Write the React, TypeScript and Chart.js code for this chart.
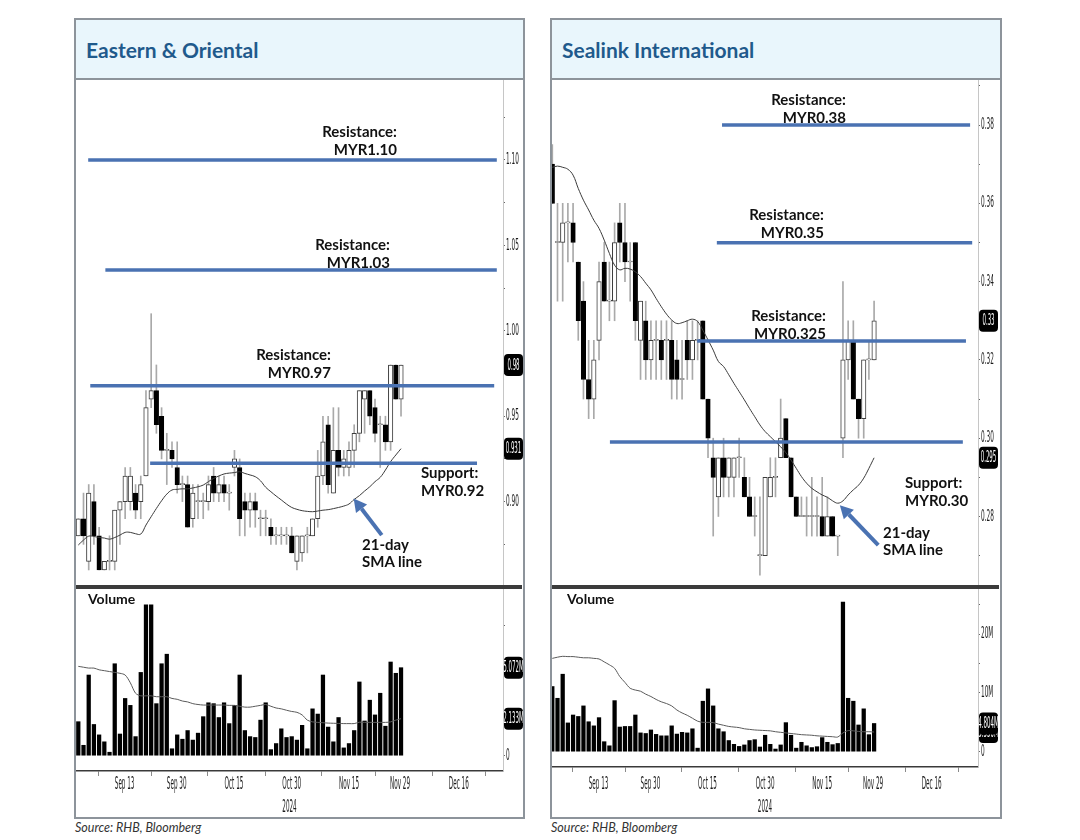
import React, { useEffect, useRef } from 'react';
import { Chart, registerables } from 'chart.js';
Chart.register(...registerables);

// ---------------- Eastern & Oriental ----------------
const eoOpen = [0.880,0.890,0.865,0.900,0.880,0.860,0.865,0.865,0.895,0.900,0.900,0.905,0.900,0.915,0.960,0.965,0.950,0.930,0.930,0.920,0.910,0.910,0.890,0.900,0.900,0.900,0.915,0.905,0.910,0.905,0.920,0.920,0.900,0.895,0.900,0.890,0.890,0.885,0.880,0.880,0.880,0.880,0.865,0.870,0.880,0.880,0.890,0.915,0.945,0.905,0.930,0.920,0.920,0.930,0.940,0.960,0.965,0.955,0.945,0.945,0.935,0.980,0.960];
const eoHigh = [0.890,0.905,0.910,0.910,0.885,0.865,0.880,0.895,0.900,0.920,0.920,0.910,0.915,0.965,1.010,0.980,0.955,0.940,0.935,0.935,0.915,0.915,0.910,0.910,0.905,0.915,0.920,0.915,0.915,0.910,0.930,0.925,0.905,0.905,0.905,0.895,0.895,0.890,0.885,0.885,0.885,0.885,0.880,0.880,0.885,0.890,0.930,0.950,0.950,0.955,0.955,0.930,0.935,0.945,0.965,0.965,0.965,0.960,0.950,0.950,0.980,0.980,0.980];
const eoLow = [0.880,0.875,0.860,0.875,0.860,0.860,0.860,0.860,0.875,0.890,0.895,0.890,0.890,0.915,0.955,0.940,0.925,0.910,0.920,0.905,0.900,0.885,0.885,0.890,0.890,0.895,0.900,0.900,0.900,0.895,0.915,0.880,0.880,0.885,0.885,0.880,0.880,0.875,0.875,0.875,0.875,0.870,0.860,0.865,0.870,0.880,0.885,0.910,0.905,0.905,0.915,0.915,0.915,0.920,0.935,0.940,0.945,0.935,0.920,0.930,0.930,0.960,0.950];
const eoClose = [0.890,0.880,0.905,0.880,0.860,0.865,0.865,0.895,0.900,0.915,0.915,0.895,0.910,0.955,0.965,0.945,0.930,0.930,0.925,0.910,0.910,0.885,0.905,0.900,0.900,0.910,0.905,0.910,0.905,0.905,0.925,0.890,0.895,0.900,0.895,0.890,0.890,0.880,0.880,0.880,0.880,0.870,0.880,0.880,0.880,0.890,0.915,0.935,0.910,0.930,0.920,0.925,0.930,0.940,0.965,0.965,0.950,0.940,0.945,0.935,0.980,0.960,0.980];
const eoSma = [0.8746,0.8775,0.8798,0.8796,0.879,0.8787,0.878,0.879,0.8804,0.882,0.882,0.8812,0.881,0.8863,0.8912,0.896,0.9005,0.9044,0.9068,0.9072,0.9075,0.9075,0.908,0.9087,0.9097,0.9117,0.9136,0.915,0.9162,0.9167,0.917,0.9175,0.9165,0.9156,0.9146,0.9122,0.9084,0.9058,0.9033,0.901,0.8986,0.8966,0.8955,0.8947,0.8943,0.8941,0.8945,0.895,0.8953,0.8959,0.8966,0.8974,0.8986,0.9013,0.9035,0.9062,0.9087,0.9117,0.9142,0.9185,0.9234,0.9273,0.931];
const eoVolume = [1.96,0.6,4.65,1.8,1.2,0.8,0.2,5.3,1.25,3.3,2.9,1.1,4.8,8.7,8.7,3.0,5.3,5.85,0.4,1.2,0.95,1.45,0.9,1.3,2.25,3.05,3.0,2.2,3.05,1.85,2.9,4.65,1.45,1.1,1.05,2.05,3.05,0.35,0.7,1.55,1.05,1.1,0.9,1.75,0.4,2.7,2.4,4.65,1.65,0.8,2.2,0.45,0.7,1.45,4.25,2.0,3.2,2.35,3.6,1.7,5.4,4.75,5.072];
const eoVolSma = [5.15,5.1,5.05,5.05,4.95,4.9,4.85,4.8,4.75,4.65,4.2,3.6,3.45,3.45,3.45,3.4,3.4,3.4,3.3,3.25,3.15,3.1,3.0,2.95,2.92,2.92,2.92,2.92,2.92,2.9,2.9,2.85,2.8,2.8,2.85,2.9,2.95,2.85,2.75,2.7,2.62,2.55,2.5,2.35,2.05,1.95,1.92,1.9,1.88,1.87,1.86,1.85,1.85,1.85,1.93,1.92,1.92,1.92,1.92,1.92,1.95,2.05,2.133];
const eoLevelNames = ['Resistance:', 'Resistance:', 'Resistance:', 'Support:'];
const eoLevelTexts = ['MYR1.10', 'MYR1.03', 'MYR0.97', 'MYR0.92'];
const eoLevelDrawn = [1.1, 1.0356, 0.9678, 0.9224];
const eoLevelFrom = [2.9, 6.2, 3.3, 14.8];
const eoLevelTo = [81.4, 81.4, 80.9, 77.6];
const eoPriceTicks = [0.875, 0.9, 0.925, 0.95, 0.975, 1.0, 1.025, 1.05, 1.075, 1.1, 1.125];
const eoPriceLabels = [0.9, 0.95, 1.0, 1.05, 1.1];
const eoVolTicks = [0, 2.5, 5, 7.5];
const eoVolLabels = [0, 5];

// ---------------- Sealink International ----------------
const slOpen = [0.370,0.350,0.350,0.355,0.355,0.345,0.335,0.315,0.310,0.325,0.345,0.335,0.335,0.355,0.350,0.345,0.350,0.325,0.330,0.320,0.325,0.325,0.325,0.325,0.320,0.315,0.325,0.320,0.325,0.330,0.310,0.295,0.285,0.295,0.290,0.290,0.295,0.290,0.285,0.280,0.270,0.270,0.285,0.290,0.295,0.305,0.295,0.285,0.280,0.280,0.280,0.280,0.280,0.275,0.280,0.275,0.300,0.320,0.325,0.310,0.305,0.320,0.320];
const slHigh = [0.375,0.360,0.360,0.360,0.360,0.345,0.340,0.325,0.325,0.345,0.350,0.345,0.355,0.360,0.360,0.350,0.350,0.335,0.335,0.330,0.330,0.330,0.330,0.330,0.325,0.325,0.330,0.330,0.330,0.330,0.310,0.300,0.295,0.300,0.295,0.295,0.300,0.295,0.290,0.285,0.285,0.290,0.295,0.295,0.310,0.305,0.295,0.285,0.285,0.285,0.290,0.285,0.290,0.285,0.280,0.275,0.340,0.330,0.330,0.310,0.320,0.325,0.335];
const slLow = [0.360,0.335,0.335,0.345,0.345,0.325,0.310,0.305,0.305,0.320,0.335,0.330,0.330,0.345,0.340,0.335,0.325,0.315,0.315,0.315,0.315,0.315,0.315,0.310,0.310,0.310,0.315,0.315,0.320,0.310,0.295,0.275,0.280,0.285,0.285,0.285,0.290,0.285,0.280,0.275,0.265,0.270,0.285,0.285,0.295,0.295,0.285,0.280,0.280,0.275,0.275,0.275,0.275,0.275,0.275,0.270,0.295,0.315,0.310,0.300,0.300,0.315,0.320];
const slClose = [0.360,0.350,0.355,0.355,0.350,0.330,0.315,0.310,0.320,0.340,0.335,0.335,0.350,0.350,0.345,0.345,0.330,0.335,0.320,0.325,0.325,0.320,0.325,0.315,0.315,0.315,0.320,0.325,0.325,0.310,0.300,0.290,0.295,0.290,0.295,0.295,0.295,0.285,0.280,0.280,0.270,0.290,0.290,0.290,0.300,0.295,0.285,0.280,0.280,0.280,0.280,0.280,0.275,0.280,0.275,0.275,0.320,0.325,0.310,0.305,0.320,0.320,0.330];
const slSma = [0.3692,0.3695,0.3692,0.3687,0.3672,0.3638,0.3608,0.3583,0.3557,0.3536,0.3506,0.3472,0.3442,0.3430,0.3434,0.3432,0.3425,0.3413,0.3396,0.3379,0.3357,0.3336,0.3317,0.3302,0.3293,0.3295,0.3300,0.3304,0.3298,0.3276,0.3251,0.3225,0.3196,0.3183,0.3162,0.3140,0.3119,0.3098,0.3076,0.3055,0.3034,0.3017,0.3004,0.2991,0.2978,0.2963,0.2944,0.2923,0.2902,0.2885,0.2872,0.2863,0.2855,0.2849,0.2840,0.2834,0.2840,0.2855,0.2868,0.2880,0.2898,0.2923,0.295];
const slVolume = [11.1,9.1,13.2,4.9,6.25,6.0,7.8,5.1,4.4,5.8,1.7,1.0,8.7,4.2,4.3,4.3,6.25,3.2,3.1,3.7,2.95,2.7,2.7,4.4,3.0,3.3,3.2,3.9,0.6,8.6,10.7,7.8,3.9,3.4,1.9,1.25,0.9,1.15,1.9,2.05,0.8,2.8,1.25,0.45,1.15,4.95,2.8,0.6,1.6,1.0,0.7,0.85,2.4,1.6,1.2,1.4,25.5,9.1,8.6,4.55,7.3,2.9,4.804];
const slVolSma = [15.9,16.1,16.25,16.2,16.2,16.1,16.0,16.0,15.9,15.8,15.3,14.8,14.2,12.8,11.8,10.8,10.5,10.3,9.8,9.4,8.9,8.5,8.2,7.8,7.1,6.6,6.2,5.7,5.2,5.0,5.0,4.95,4.7,4.5,4.3,4.2,4.1,3.9,3.8,3.7,3.65,3.6,3.55,3.4,3.3,3.2,3.1,3.0,2.9,2.85,2.8,2.7,2.65,2.6,2.55,2.5,3.2,3.6,3.55,3.45,3.4,3.4,3.35];
const slLevelNames = ['Resistance:', 'Resistance:', 'Resistance:', 'Support:'];
const slLevelTexts = ['MYR0.38', 'MYR0.35', 'MYR0.325', 'MYR0.30'];
const slLevelDrawn = [0.38, 0.3499, 0.3248, 0.299];
const slLevelFrom = [33.7, 32.7, 28.9, 12.1];
const slLevelTo = [81.5, 81.9, 80.7, 80.1];
const slPriceTicks = [0.27, 0.28, 0.29, 0.30, 0.31, 0.32, 0.33, 0.34, 0.35, 0.36, 0.37, 0.38, 0.39];
const slPriceLabels = [0.28, 0.30, 0.32, 0.34, 0.36, 0.38];
const slVolTicks = [0, 5, 10, 15, 20, 25];
const slVolLabels = [0, 10, 20];

// ---------------- shared x axis ----------------
const dateLabels = ['Sep 13', 'Sep 30', 'Oct 15', 'Oct 30', 'Nov 15', 'Nov 29', 'Dec 16'];
const dateLabelPos = [9.9, 19.9, 30.9, 42, 53, 62.8, 74.1];
const dateTickPos = [4.8, 15.1, 25.9, 36.9, 47.8, 58.0, 69.0, 79.2];
const yearLabel = '2024';

const LEVEL_BLUE = '#4a72b2';
const NARROW = '"Liberation Sans Narrow", "DejaVu Sans Condensed", "Liberation Sans", sans-serif';

function narrowText(ctx: any, text: string, x: number, y: number, align: string, color: string, size: number, sx: number) {
  ctx.save();
  ctx.font = `${size}px ${NARROW}`;
  ctx.fillStyle = color;
  ctx.textBaseline = 'middle';
  ctx.textAlign = align;
  ctx.translate(x, y);
  ctx.scale(sx, 1);
  ctx.fillText(text, 0, 0);
  ctx.restore();
}

function makeOverlay(opts: any) {
  return {
    id: 'overlay',
    afterDatasetsDraw(chart: any) {
      const a = opts.arrow;
      if (!a) return;
      const xs = chart.scales.x, ys = chart.scales.y, ctx = chart.ctx;
      const px0 = xs.getPixelForValue(a.x0), py0 = ys.getPixelForValue(a.y0);
      const px1 = xs.getPixelForValue(a.x1), py1 = ys.getPixelForValue(a.y1);
      const ang = Math.atan2(py1 - py0, px1 - px0);
      const head = 13;
      const bx = px1 - head * Math.cos(ang), by = py1 - head * Math.sin(ang);
      ctx.save();
      ctx.strokeStyle = LEVEL_BLUE;
      ctx.fillStyle = LEVEL_BLUE;
      ctx.lineWidth = 4;
      ctx.beginPath();
      ctx.moveTo(px0, py0);
      ctx.lineTo(bx, by);
      ctx.stroke();
      ctx.beginPath();
      ctx.moveTo(px1, py1);
      ctx.lineTo(bx + 7 * Math.sin(ang), by - 7 * Math.cos(ang));
      ctx.lineTo(bx - 7 * Math.sin(ang), by + 7 * Math.cos(ang));
      ctx.closePath();
      ctx.fill();
      ctx.restore();
    },
    afterDraw(chart: any) {
      const ctx = chart.ctx;
      const ys = chart.scales.y;
      const xs = chart.scales.x;
      (opts.yLabels || []).forEach((t: any) => {
        narrowText(ctx, t.text, ys.left + 3, ys.getPixelForValue(t.value), 'left', '#1a1a1a', 16, 0.4);
      });
      (opts.boxes || []).forEach((b: any) => {
        const py = ys.getPixelForValue(b.value);
        ctx.save();
        ctx.fillStyle = '#000';
        ctx.beginPath();
        if (ctx.roundRect) ctx.roundRect(ys.left + 1, py - 11, 19, 22, 4);
        else ctx.rect(ys.left + 1, py - 11, 19, 22);
        ctx.fill();
        ctx.restore();
        narrowText(ctx, b.text, ys.left + 10.5, py + 0.5, 'center', '#fff', 16, 0.38);
      });
      (opts.xLabels || []).forEach((t: any) => {
        narrowText(ctx, t.text, xs.getPixelForValue(t.value), chart.height - 32, 'center', '#1a1a1a', 17, 0.37);
      });
      if (opts.year) {
        narrowText(ctx, opts.year.text, (xs.left + xs.right) / 2, chart.height - 9, 'center', '#1a1a1a', 17, 0.37);
      }
    },
  };
}

function priceConfig(p: any) {
  const idx = p.open.map((_: number, k: number) => k + 1);
  const up = idx.map((_: number, k: number) => p.close[k] >= p.open[k]);
  const bodies = idx.map((x: number, k: number) => ({ x, y: [Math.min(p.open[k], p.close[k]), Math.max(p.open[k], p.close[k])] }));
  const wicks = idx.map((x: number, k: number) => ({ x, y: [p.low[k], p.high[k]] }));
  const levelSets = p.levels.map((lv: number, k: number) => ({
    type: 'line',
    data: [{ x: p.levelFrom[k], y: lv }, { x: p.levelTo[k], y: lv }],
    borderColor: LEVEL_BLUE,
    borderWidth: 3.5,
    pointRadius: 0,
    order: -1,
  }));
  const last = p.close.length - 1;
  return {
    type: 'bar',
    data: {
      datasets: [
        ...levelSets,
        {
          type: 'line',
          data: idx.map((x: number, k: number) => ({ x, y: p.sma[k] })),
          borderColor: '#3a3a3a',
          borderWidth: 1,
          pointRadius: 0,
          tension: 0.4,
          order: 0,
        },
        {
          type: 'bar',
          data: bodies,
          backgroundColor: up.map((u: boolean) => (u ? '#ffffff' : '#000000')),
          borderColor: up.map((u: boolean) => (u ? '#3c3c3c' : '#000000')),
          borderWidth: 1,
          borderSkipped: false,
          barThickness: 4.5,
          minBarLength: 1,
          grouped: false,
          order: 1,
        },
        {
          type: 'bar',
          data: wicks,
          backgroundColor: '#a9a9a9',
          barThickness: 1,
          grouped: false,
          order: 2,
        },
      ],
    },
    options: {
      responsive: false,
      animation: false,
      devicePixelRatio: 1,
      events: [],
      layout: { padding: 0 },
      plugins: { legend: { display: false }, tooltip: { enabled: false } },
      scales: {
        x: { type: 'linear', display: false, min: p.xMin, max: p.xMax, offset: false, grid: { offset: false } },
        y: {
          type: 'linear',
          position: 'right',
          min: p.yMin,
          max: p.yMax,
          beginAtZero: false,
          afterBuildTicks: (s: any) => { s.ticks = p.priceTicks.map((v: number) => ({ value: v })); },
          afterFit: (s: any) => { s.width = 20; },
          ticks: { display: false },
          grid: { drawOnChartArea: false, drawTicks: true, tickLength: 2, color: '#666' },
          border: { display: true, color: '#c6c6c6', width: 1 },
        },
      },
    },
    plugins: [
      makeOverlay({
        yLabels: p.priceLabels.map((v: number) => ({ value: v, text: v.toFixed(2) })),
        boxes: [
          { value: p.sma[last], text: p.sma[last].toFixed(3) },
          { value: p.close[last], text: p.close[last].toFixed(2) },
        ],
        arrow: p.arrow,
      }),
    ],
  };
}

function volumeConfig(p: any) {
  const idx = p.volume.map((_: number, k: number) => k + 1);
  const last = p.volume.length - 1;
  return {
    type: 'bar',
    data: {
      datasets: [
        {
          type: 'line',
          data: idx.map((x: number, k: number) => ({ x, y: p.volSma[k] })),
          borderColor: '#5a5a5a',
          borderWidth: 1,
          pointRadius: 0,
          tension: 0.3,
          order: 0,
        },
        {
          type: 'bar',
          data: idx.map((x: number, k: number) => ({ x, y: p.volume[k] })),
          backgroundColor: '#000',
          barThickness: 3.6,
          grouped: false,
          order: 1,
        },
      ],
    },
    options: {
      responsive: false,
      animation: false,
      devicePixelRatio: 1,
      events: [],
      layout: { padding: 0 },
      plugins: { legend: { display: false }, tooltip: { enabled: false } },
      scales: {
        x: {
          type: 'linear',
          position: 'bottom',
          min: p.xMin,
          max: p.xMax,
          offset: false,
          afterBuildTicks: (s: any) => { s.ticks = dateTickPos.map((v) => ({ value: v })); },
          afterFit: (s: any) => { s.height = p.xAxisHeight; },
          ticks: { display: false },
          grid: { drawOnChartArea: false, drawTicks: true, tickLength: 5, color: '#8a8a8a', offset: false },
          border: { display: true, color: '#3a3a3a', width: 1.5 },
        },
        y: {
          type: 'linear',
          position: 'right',
          min: p.vMin,
          max: p.vMax,
          beginAtZero: false,
          afterBuildTicks: (s: any) => { s.ticks = p.volTicks.map((v: number) => ({ value: v })); },
          afterFit: (s: any) => { s.width = 20; },
          ticks: { display: false },
          grid: { drawOnChartArea: false, drawTicks: true, tickLength: 2, color: '#666' },
          border: { display: true, color: '#c6c6c6', width: 1 },
        },
      },
    },
    plugins: [
      makeOverlay({
        yLabels: p.volLabels.map((v: number) => ({ value: v, text: v === 0 ? '0' : `${v}M` })),
        boxes: [
          { value: p.volSma[last], text: `${p.volSma[last].toFixed(3)}M` },
          { value: p.volume[last], text: `${p.volume[last].toFixed(3)}M` },
        ],
        xLabels: dateLabels.map((t, k) => ({ value: dateLabelPos[k], text: t })),
        year: { text: yearLabel },
      }),
    ],
  };
}

function ChartCanvas({ left, top, width, height, config }: any) {
  const ref = useRef<HTMLCanvasElement | null>(null);
  useEffect(() => {
    if (!ref.current) return;
    const chart = new Chart(ref.current, config());
    return () => chart.destroy();
  }, []);
  return (
    <canvas
      ref={ref}
      width={width}
      height={height}
      style={{ position: 'absolute', left, top, width, height, display: 'block' }}
    />
  );
}

const BORDER = '#8d949b';
const textStyle: any = { position: 'absolute', fontFamily: 'Lato, "Open Sans", sans-serif', fontWeight: 700, fontSize: 15, lineHeight: '18px', color: '#111', whiteSpace: 'nowrap' };

function Panel({ p }: any) {
  const innerLeft = p.boxLeft + 2;
  const innerWidth = p.boxWidth - 4;
  return (
    <>
      <div style={{ position: 'absolute', left: p.boxLeft, top: 18, width: p.boxWidth, height: 801, border: `2px solid ${BORDER}`, boxSizing: 'border-box' }} />
      <div style={{ position: 'absolute', left: innerLeft, top: 20, width: innerWidth, height: 58, background: '#e9f6fc', borderBottom: `2px solid ${BORDER}` }} />
      <div style={{ position: 'absolute', left: innerLeft + 10, top: 20, height: 58, display: 'flex', alignItems: 'center', fontFamily: 'Lato, "Open Sans", sans-serif', fontWeight: 700, fontSize: 21, color: '#1f5a8c', whiteSpace: 'nowrap' }}>{p.title}</div>
      <ChartCanvas left={innerLeft} top={80} width={p.chartWidth} height={505} config={() => priceConfig(p)} />
      <div style={{ position: 'absolute', left: innerLeft, top: 585, width: innerWidth - 1, height: 4, background: '#3b3b3b' }} />
      <ChartCanvas left={innerLeft} top={589} width={p.chartWidth} height={228} config={() => volumeConfig(p)} />
      {p.levelNames.map((name: string, k: number) => {
        const a = p.annots[k];
        return a.align === 'right' ? (
          <div key={k} style={{ ...textStyle, left: a.x - 150, top: a.y, width: 150, textAlign: 'right' }}>
            <div>{name}</div>
            <div>{p.levelTexts[k]}</div>
          </div>
        ) : (
          <div key={k} style={{ ...textStyle, left: a.x, top: a.y, textAlign: 'left' }}>
            <div>{name}</div>
            <div>{p.levelTexts[k]}</div>
          </div>
        );
      })}
      <div style={{ ...textStyle, left: p.smaNote.x, top: p.smaNote.y, lineHeight: '17px' }}>
        <div>21-day</div>
        <div>SMA line</div>
      </div>
      <div style={{ ...textStyle, left: p.volNote.x, top: 590, fontSize: 14 }}>Volume</div>
      <div style={{ position: 'absolute', left: p.boxLeft + 1, top: 820, fontFamily: 'Lato, "Open Sans", sans-serif', fontStyle: 'italic', fontSize: 12.5, color: '#333', whiteSpace: 'nowrap' }}>Source: RHB, Bloomberg</div>
    </>
  );
}

const eoPanel = {
  title: 'Eastern & Oriental',
  boxLeft: 74, boxWidth: 451, chartWidth: 447,
  open: eoOpen, high: eoHigh, low: eoLow, close: eoClose, sma: eoSma,
  volume: eoVolume, volSma: eoVolSma,
  levels: eoLevelDrawn, levelFrom: eoLevelFrom, levelTo: eoLevelTo,
  levelNames: eoLevelNames, levelTexts: eoLevelTexts,
  priceTicks: eoPriceTicks, priceLabels: eoPriceLabels,
  volTicks: eoVolTicks, volLabels: eoVolLabels,
  xMin: 0.558, xMax: 82.59,
  yMin: 0.8512, yMax: 1.1468,
  vMin: -0.882, vMax: 9.608, xAxisHeight: 46,
  arrow: { x0: 59.3, y0: 0.8804, x1: 53.9, y1: 0.9019 },
  annots: [
    { align: 'right', x: 397, y: 122 },
    { align: 'right', x: 390, y: 235 },
    { align: 'right', x: 331, y: 345 },
    { align: 'left', x: 421, y: 463 },
  ],
  smaNote: { x: 362, y: 536 },
  volNote: { x: 88 },
};

const slPanel = {
  title: 'Sealink International',
  boxLeft: 550, boxWidth: 452, chartWidth: 446,
  open: slOpen, high: slHigh, low: slLow, close: slClose, sma: slSma,
  volume: slVolume, volSma: slVolSma,
  levels: slLevelDrawn, levelFrom: slLevelFrom, levelTo: slLevelTo,
  levelNames: slLevelNames, levelTexts: slLevelTexts,
  priceTicks: slPriceTicks, priceLabels: slPriceLabels,
  volTicks: slVolTicks, volLabels: slVolLabels,
  xMin: 0.94, xMax: 83.02,
  yMin: 0.2625, yMax: 0.3915,
  vMin: -2.61, vMax: 27.72, xAxisHeight: 50,
  arrow: { x0: 63.8, y0: 0.2727, x1: 56.4, y1: 0.2829 },
  annots: [
    { align: 'right', x: 846, y: 90 },
    { align: 'right', x: 824, y: 205 },
    { align: 'right', x: 826, y: 306 },
    { align: 'left', x: 905, y: 473 },
  ],
  smaNote: { x: 883, y: 524 },
  volNote: { x: 567 },
};

export default function App() {
  return (
    <div style={{ position: 'absolute', left: 0, top: 0, width: 1080, height: 840, background: '#fff', overflow: 'hidden' }}>
      <Panel p={eoPanel} />
      <Panel p={slPanel} />
    </div>
  );
}
